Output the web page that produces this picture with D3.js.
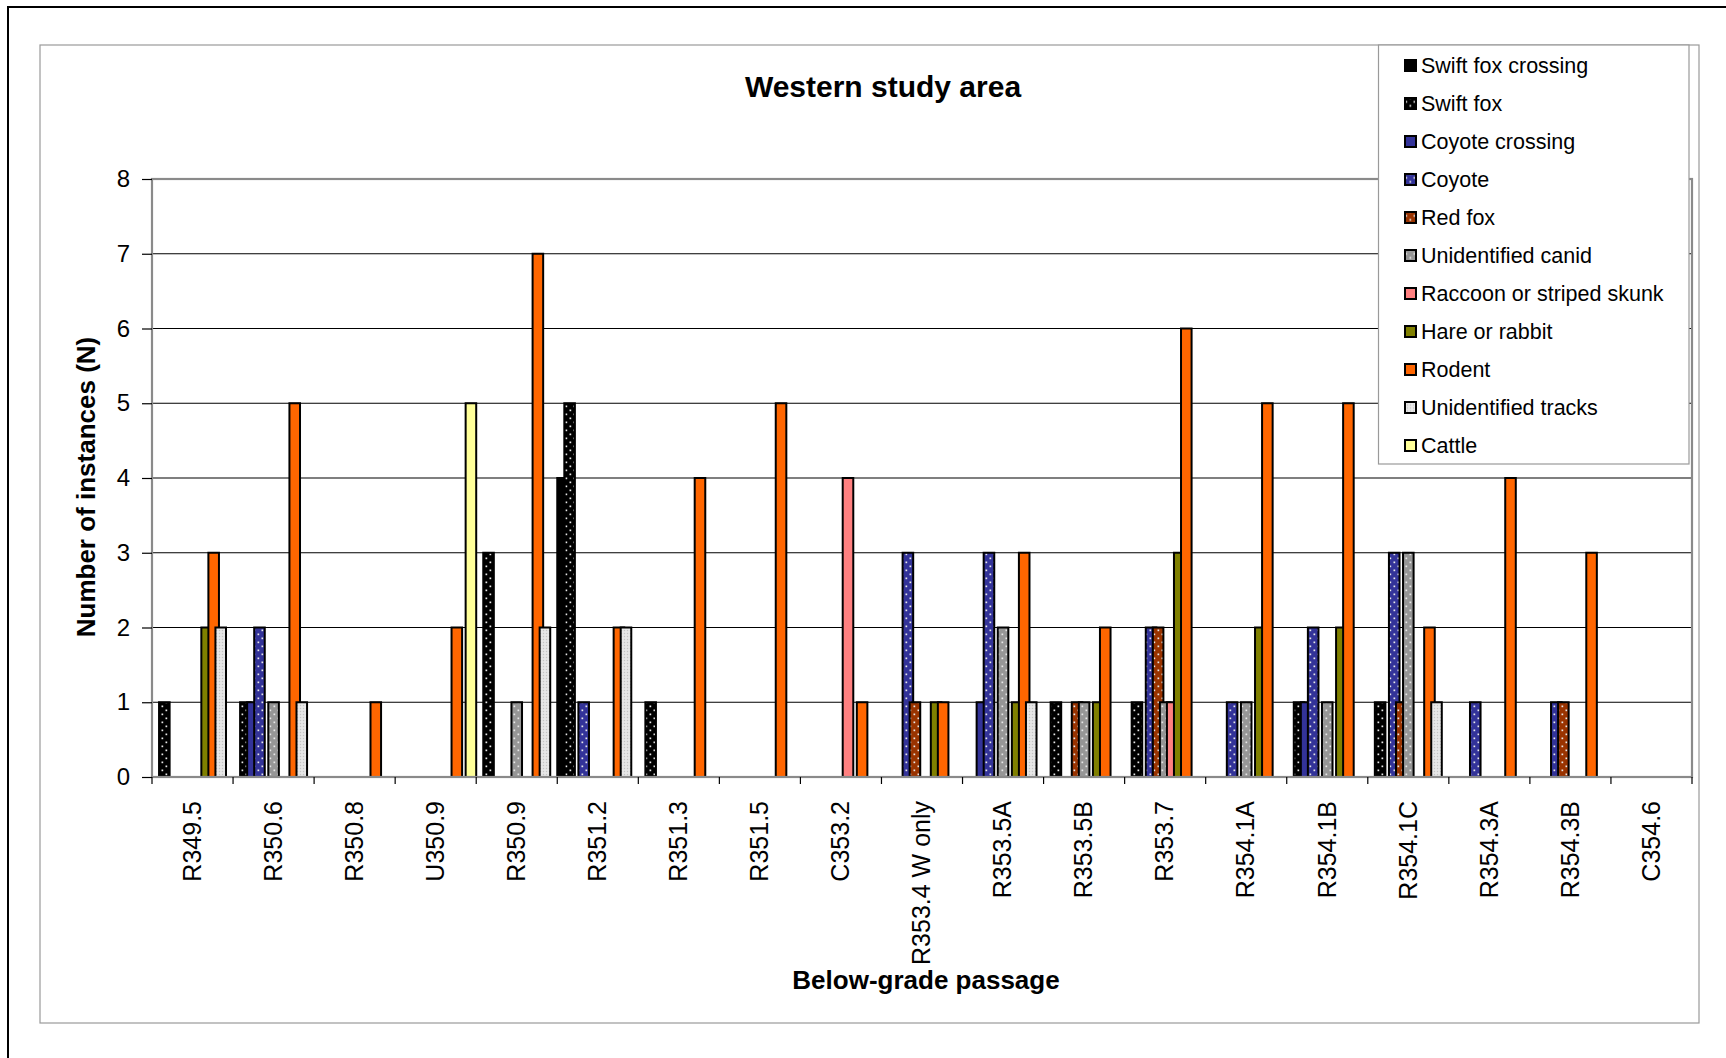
<!DOCTYPE html>
<html>
<head>
<meta charset="utf-8">
<script src="https://cdn.jsdelivr.net/npm/d3@7"></script>
<style>
  html, body { margin: 0; padding: 0; background: #fff; }
  svg { display: block; font-family: "Liberation Sans", Arial, Helvetica, sans-serif; }
</style>
</head>
<body>
<svg id="chart" width="1726" height="1058"></svg>
<script>
// ---------- DATA ----------
const categories = ["R349.5","R350.6","R350.8","U350.9","R350.9","R351.2","R351.3","R351.5","C353.2",
  "R353.4 W only","R353.5A","R353.5B","R353.7","R354.1A","R354.1B","R354.1C","R354.3A","R354.3B","C354.6"];

const seriesNames = ["Swift fox crossing","Swift fox","Coyote crossing","Coyote","Red fox","Unidentified canid",
  "Raccoon or striped skunk","Hare or rabbit","Rodent","Unidentified tracks","Cattle"];

const swiftFoxCrossing = [0,0,0,0,0,4,0,0,0,0,0,0,0,0,0,0,0,0,0];
const swiftFox         = [1,1,0,0,3,5,1,0,0,0,0,1,1,0,1,1,0,0,0];
const coyoteCrossing   = [0,1,0,0,0,0,0,0,0,0,1,0,0,0,1,0,0,0,0];
const coyote           = [0,2,0,0,0,1,0,0,0,3,3,0,2,1,2,3,1,1,0];
const redFox           = [0,0,0,0,0,0,0,0,0,1,0,1,2,0,0,1,0,1,0];
const unidentifiedCanid= [0,1,0,0,1,0,0,0,0,0,2,1,1,1,1,3,0,0,0];
const raccoonSkunk     = [0,0,0,0,0,0,0,0,4,0,0,0,1,0,0,0,0,0,0];
const hareRabbit       = [2,0,0,0,0,0,0,0,0,1,1,1,3,2,2,0,0,0,0];
const rodent           = [3,5,1,2,7,2,4,5,1,1,3,2,6,5,5,2,4,3,0];
const unidentifiedTracks=[2,1,0,0,2,2,0,0,0,0,1,0,0,0,0,1,0,0,0];
const cattle           = [0,0,0,5,0,0,0,0,0,0,0,0,0,0,0,0,0,0,0];

const yTicks = [0,1,2,3,4,5,6,7,8];

const seriesValues = [swiftFoxCrossing, swiftFox, coyoteCrossing, coyote, redFox, unidentifiedCanid,
  raccoonSkunk, hareRabbit, rodent, unidentifiedTracks, cattle];

// ---------- STYLE ----------
const seriesColors = ["#000000","#000000","#333399","#333399","#993300","#969696",
  "#FF8080","#808000","#FF6600","#E2E2E2","#FFFF99"];
const seriesPattern = ["solid","dots","solid","dots","dots","dots","solid","solid","solid","checker","solid"];

const svg = d3.select("#chart");
const defs = svg.append("defs");

seriesColors.forEach((c, i) => {
  if (seriesPattern[i] === "dots") {
    const p = defs.append("pattern").attr("id", "pat" + i)
      .attr("patternUnits", "userSpaceOnUse").attr("width", 8).attr("height", 8);
    p.append("rect").attr("width", 8).attr("height", 8).attr("fill", c);
    p.append("rect").attr("x", 1.5).attr("y", 1.5).attr("width", 1.7).attr("height", 1.7).attr("fill", "#e8e8e8");
    p.append("rect").attr("x", 5.5).attr("y", 5.5).attr("width", 1.7).attr("height", 1.7).attr("fill", "#e8e8e8");
  } else if (seriesPattern[i] === "checker") {
    const p = defs.append("pattern").attr("id", "pat" + i)
      .attr("patternUnits", "userSpaceOnUse").attr("width", 3).attr("height", 3);
    p.append("rect").attr("width", 3).attr("height", 3).attr("fill", c);
    p.append("rect").attr("x", 0).attr("y", 0).attr("width", 1).attr("height", 1).attr("fill", "#c4c4c4");
    p.append("rect").attr("x", 1.5).attr("y", 1.5).attr("width", 1).attr("height", 1).attr("fill", "#f6f6f6");
  }
});
const fillOf = i => seriesPattern[i] === "solid" ? seriesColors[i] : `url(#pat${i})`;

// ---------- FRAMES ----------
svg.append("rect").attr("x", 8).attr("y", 7).attr("width", 1760).attr("height", 1100)
  .attr("fill", "none").attr("stroke", "#000").attr("stroke-width", 2);
svg.append("rect").attr("x", 40).attr("y", 45).attr("width", 1659).attr("height", 978)
  .attr("fill", "none").attr("stroke", "#9a9a9a").attr("stroke-width", 1.2);

// ---------- SCALES ----------
const plot = { left: 152, right: 1692, top: 179, bottom: 777 };
const x = d3.scaleBand().domain(categories).range([plot.left, plot.right]).paddingInner(0).paddingOuter(0);
const y = d3.scaleLinear().domain([0, 8]).range([plot.bottom, plot.top]);
const step = x.bandwidth() / 11.5;
const barW = step * 1.5;

// gridlines
svg.append("g").selectAll("line").data(yTicks.filter(t => t > 0 && t < 8)).join("line")
  .attr("x1", plot.left).attr("x2", plot.right)
  .attr("y1", d => y(d)).attr("y2", d => y(d))
  .attr("stroke", "#000").attr("stroke-width", 1.2);

// bars
seriesValues.forEach((vals, si) => {
  svg.append("g").selectAll("rect")
    .data(vals.map((v, ci) => ({ v, c: categories[ci] })).filter(d => d.v > 0))
    .join("rect")
    .attr("x", d => x(d.c) + si * step)
    .attr("width", barW)
    .attr("y", d => y(d.v))
    .attr("height", d => y(0) - y(d.v))
    .attr("fill", fillOf(si))
    .attr("stroke", "#000").attr("stroke-width", 2);
});

// plot frame
svg.append("rect").attr("x", plot.left).attr("y", plot.top)
  .attr("width", plot.right - plot.left).attr("height", plot.bottom - plot.top)
  .attr("fill", "none").attr("stroke", "#8a8a8a").attr("stroke-width", 2.2);

// y axis
const yAxis = d3.axisLeft(y).tickValues(yTicks).tickSize(10).tickPadding(12).tickFormat(d3.format("d"));
const gy = svg.append("g").attr("transform", `translate(${plot.left},0)`).call(yAxis);
gy.select(".domain").remove();
gy.selectAll(".tick line").attr("stroke", "#000").attr("stroke-width", 1.2);
gy.selectAll(".tick text").attr("font-size", 24).attr("fill", "#000")
  .attr("font-family", "'Liberation Sans', Arial, sans-serif");

// x axis ticks at boundaries
const bounds = categories.map(c => x(c)).concat([plot.right]);
svg.append("g").selectAll("line").data(bounds).join("line")
  .attr("x1", d => d).attr("x2", d => d).attr("y1", plot.bottom).attr("y2", plot.bottom + 7)
  .attr("stroke", "#000").attr("stroke-width", 1.2);

// x labels
svg.append("g").selectAll("text").data(categories).join("text")
  .attr("transform", d => `translate(${x(d) + x.bandwidth() / 2},801) rotate(-90)`)
  .attr("text-anchor", "end").attr("dy", "0.33em")
  .attr("font-size", 25).attr("fill", "#000")
  .text(d => d);

// titles
svg.append("text").attr("x", 883).attr("y", 97).attr("text-anchor", "middle")
  .attr("font-size", 30).attr("font-weight", "bold").text("Western study area");
svg.append("text").attr("x", 926).attr("y", 989).attr("text-anchor", "middle")
  .attr("font-size", 26).attr("font-weight", "bold").text("Below-grade passage");
svg.append("text").attr("transform", "translate(95,487) rotate(-90)").attr("text-anchor", "middle")
  .attr("font-size", 26).attr("font-weight", "bold").text("Number of instances (N)");

// legend
const lg = svg.append("g");
lg.append("rect").attr("x", 1378.5).attr("y", 45).attr("width", 310.5).attr("height", 419)
  .attr("fill", "#fff").attr("stroke", "#9a9a9a").attr("stroke-width", 1.2);
const items = lg.selectAll("g.item").data(seriesNames).join("g").attr("class", "item")
  .attr("transform", (d, i) => `translate(0,${65.5 + i * 38})`);
items.append("rect").attr("x", 1405).attr("y", -5.5).attr("width", 11).attr("height", 11)
  .attr("fill", (d, i) => fillOf(i)).attr("stroke", "#000").attr("stroke-width", 2);
items.append("text").attr("x", 1421).attr("y", 0).attr("dy", "0.36em")
  .attr("font-size", 21.5).attr("fill", "#000").text(d => d);
</script>
</body>
</html>
